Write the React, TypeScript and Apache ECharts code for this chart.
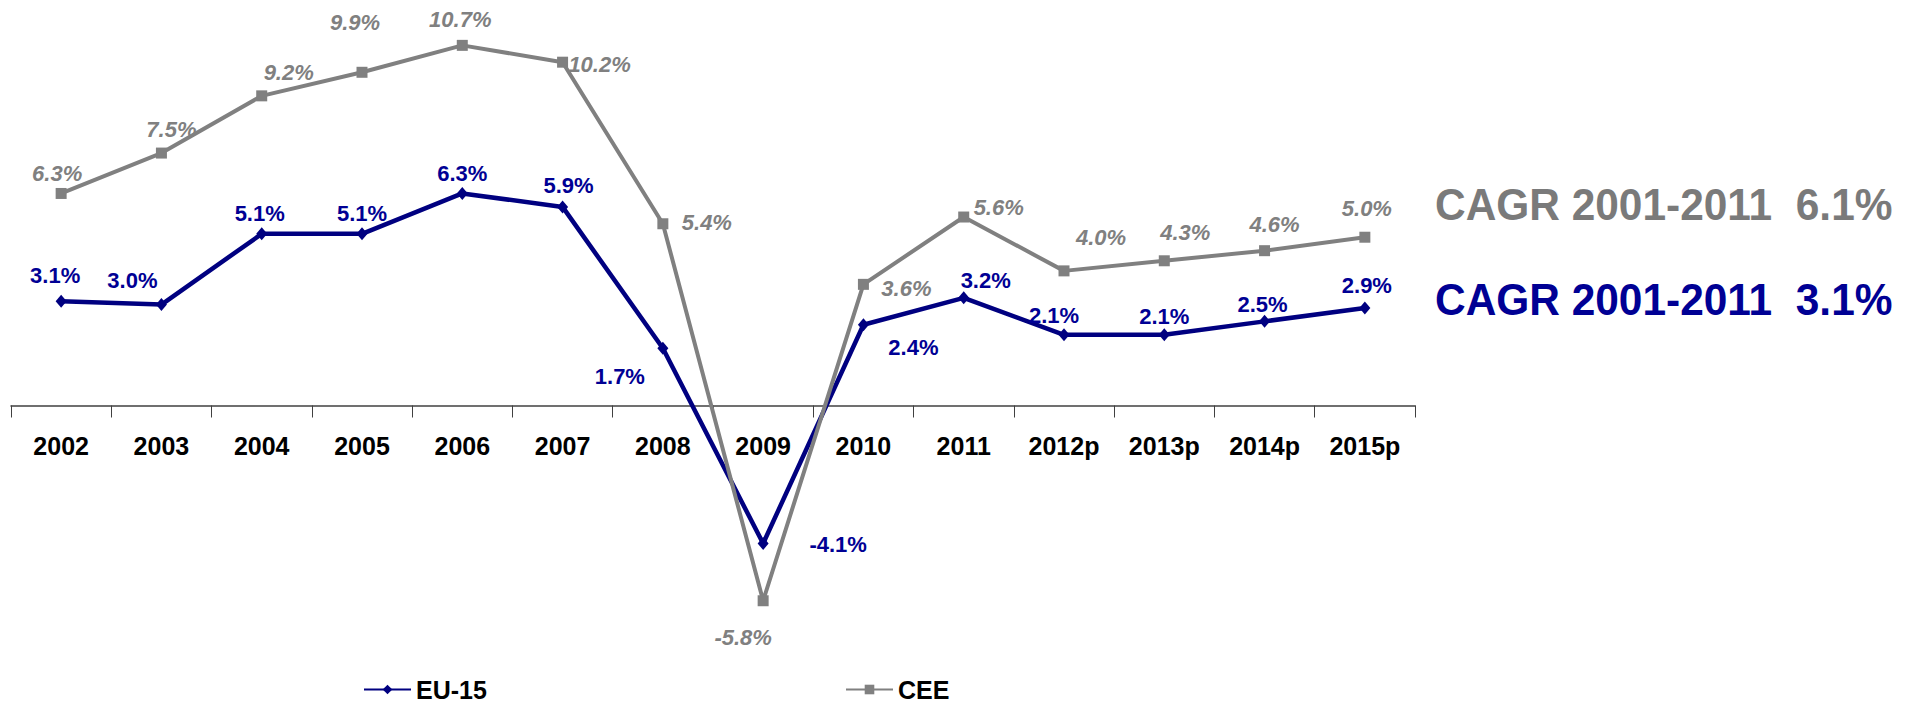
import React, { useEffect, useRef } from "react";
import * as echarts from "echarts";

const categories = ["2002", "2003", "2004", "2005", "2006", "2007", "2008", "2009", "2010", "2011", "2012p", "2013p", "2014p", "2015p"];
const eu15 = [3.1, 3.0, 5.1, 5.1, 6.3, 5.9, 1.7, -4.1, 2.4, 3.2, 2.1, 2.1, 2.5, 2.9];
const cee = [6.3, 7.5, 9.2, 9.9, 10.7, 10.2, 5.4, -5.8, 3.6, 5.6, 4.0, 4.3, 4.6, 5.0];
const cagrCee = "CAGR 2001-2011  6.1%";
const cagrEu = "CAGR 2001-2011  3.1%";

// label offsets (label centre relative to point), pixels
const euLabelOffsets = [[-6, -26], [-29, -24], [-2, -20], [0, -20], [0, -20], [6, -21], [-43, 28], [75, 1], [50, 23], [22, -17], [-10, -19], [0, -18], [-2, -17], [2, -22]];
const ceeLabelOffsets = [[-4, -20], [10, -24], [27, -23], [-7, -50], [-2, -26], [37, 2], [44, -1], [-20, 37], [43, 4], [35, -10], [37, -33], [21, -28], [10, -26], [2, -29]];

const BLUE = "#000080";
const BLUE_TXT = "#000094";
const GRAY = "#808080";
const FONT = "'Liberation Sans', Arial, sans-serif";

const GRID_LEFT = 11;
const GRID_RIGHT = 504;
const ZERO_Y = 405.5;

export default function App() {
  const ref = useRef<HTMLDivElement>(null);
  useEffect(() => {
    document.body.style.margin = "0";
    const chart = echarts.init(ref.current!, null, { renderer: "svg" });
    const fmt = (p: any) => Number(p.value).toFixed(1) + "%";
    const legendText = { color: "#000", fontWeight: "bold", fontSize: 25, fontFamily: FONT };
    chart.setOption({
      animation: false,
      grid: [
        { left: GRID_LEFT, right: GRID_RIGHT, top: 1.6, bottom: 27.2, outerBoundsMode: "none", containLabel: false },
        { left: GRID_LEFT, right: GRID_RIGHT, top: 0, bottom: 702 - ZERO_Y, outerBoundsMode: "none", containLabel: false },
      ],
      xAxis: [
        {
          type: "category",
          gridIndex: 0,
          data: categories,
          boundaryGap: true,
          show: false,
        },
        {
          type: "category",
          gridIndex: 1,
          data: categories,
          boundaryGap: true,
          position: "bottom",
          axisLine: { onZero: false, lineStyle: { color: "#404040", width: 1.5 } },
          axisTick: { show: true, length: 12, lineStyle: { color: "#404040", width: 1 } },
          axisLabel: { margin: 28, color: "#000", fontWeight: "bold", fontSize: 25, fontFamily: FONT },
          splitLine: { show: false },
        },
      ],
      yAxis: [
        { type: "value", gridIndex: 0, min: -8, max: 12, show: false, splitLine: { show: false } },
        { type: "value", gridIndex: 1, min: 0, max: 1, show: false, splitLine: { show: false } },
      ],
      legend: [
        {
          data: ["EU-15"],
          left: 363,
          top: 677,
          itemWidth: 47,
          itemHeight: 12,
          padding: 0,
          textStyle: legendText,
        },
        {
          data: ["CEE"],
          left: 845,
          top: 677,
          itemWidth: 47,
          itemHeight: 12,
          padding: 0,
          textStyle: legendText,
        },
      ],
      series: [
        {
          name: "EU-15",
          type: "line",
          xAxisIndex: 0,
          yAxisIndex: 0,
          data: eu15.map((v, i) => ({ value: v, label: { offset: euLabelOffsets[i] } })),
          symbol: "diamond",
          symbolSize: [11, 13],
          itemStyle: { color: BLUE },
          lineStyle: { color: BLUE, width: 4.5 },
          label: {
            show: true,
            position: "inside",
            formatter: fmt,
            color: BLUE_TXT,
            fontWeight: "bold",
            fontSize: 22,
            fontFamily: FONT,
          },
          z: 2,
        },
        {
          name: "CEE",
          type: "line",
          xAxisIndex: 0,
          yAxisIndex: 0,
          data: cee.map((v, i) => ({ value: v, label: { offset: ceeLabelOffsets[i] } })),
          symbol: "rect",
          symbolSize: 11,
          itemStyle: { color: GRAY },
          lineStyle: { color: GRAY, width: 4 },
          label: {
            show: true,
            position: "inside",
            formatter: fmt,
            color: GRAY,
            fontWeight: "bold",
            fontStyle: "italic",
            fontSize: 22,
            fontFamily: FONT,
          },
          z: 3,
        },
      ],
      graphic: [
        {
          type: "text",
          x: 1435,
          y: 204,
          scaleX: 0.943,
          style: { text: cagrCee, fill: "#7a7a7a", font: `bold 45px ${FONT}`, verticalAlign: "middle" },
        },
        {
          type: "text",
          x: 1435,
          y: 299,
          scaleX: 0.943,
          style: { text: cagrEu, fill: BLUE_TXT, font: `bold 45px ${FONT}`, verticalAlign: "middle" },
        },
      ],
    });
    return () => chart.dispose();
  }, []);
  return <div ref={ref} style={{ width: 1919, height: 702 }} />;
}
